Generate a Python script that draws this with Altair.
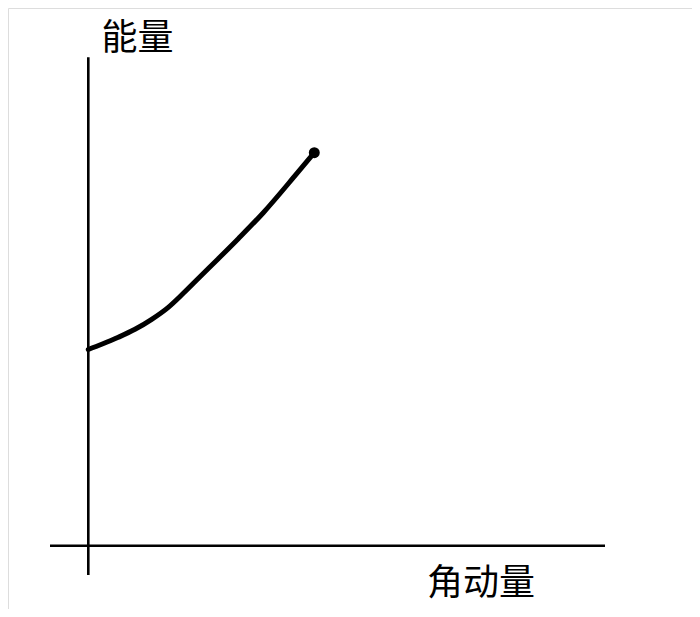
import altair as alt
import pandas as pd

# Curve: energy vs angular momentum (units: 100 px per unit, origin at the axis crossing)
L_vals = [0.0, 0.134, 0.3, 0.467, 0.634, 0.8, 0.95, 1.117, 1.3, 1.5, 1.75, 2.084, 2.26]
E_vals = [1.962, 2.014, 2.084, 2.164, 2.264, 2.384, 2.524, 2.69, 2.87, 3.07, 3.33, 3.72, 3.93]

# Axis line extents
x_axis_from, x_axis_to = -0.383, 5.167
y_axis_from, y_axis_to = -0.293, 4.884

# Axis labels
label_text = ["能量", "角动量"]
label_x = [0.492, 3.927]
label_y = [5.067, -0.383]

X_DOMAIN = [-0.803, 6.037]
Y_DOMAIN = [-0.633, 5.377]

curve = pd.DataFrame({"L": L_vals, "E": E_vals})
end_pt = curve.tail(1)
axes = pd.DataFrame({
    "x": [x_axis_from, 0.0],
    "x2": [x_axis_to, 0.0],
    "y": [0.0, y_axis_from],
    "y2": [0.0, y_axis_to],
})
labels = pd.DataFrame({"t": label_text, "x": label_x, "y": label_y})

xs = alt.Scale(domain=X_DOMAIN, nice=False, zero=False)
ys = alt.Scale(domain=Y_DOMAIN, nice=False, zero=False)

axis_rules = alt.Chart(axes).mark_rule(color="black", strokeWidth=2.6).encode(
    x=alt.X("x:Q", scale=xs, axis=None),
    x2="x2:Q",
    y=alt.Y("y:Q", scale=ys, axis=None),
    y2="y2:Q",
)

line = alt.Chart(curve).mark_line(color="black", strokeWidth=5, interpolate="monotone", strokeCap="round").encode(
    x=alt.X("L:Q", scale=xs, axis=None),
    y=alt.Y("E:Q", scale=ys, axis=None),
)

dot = alt.Chart(end_pt).mark_point(filled=True, color="black", size=120, shape="circle", opacity=1).encode(
    x=alt.X("L:Q", scale=xs, axis=None),
    y=alt.Y("E:Q", scale=ys, axis=None),
)

text = alt.Chart(labels).mark_text(
    font="Noto Sans CJK SC", fontSize=36, color="black", align="center", baseline="middle"
).encode(
    x=alt.X("x:Q", scale=xs, axis=None),
    y=alt.Y("y:Q", scale=ys, axis=None),
    text="t:N",
)

chart = alt.layer(axis_rules, line, dot, text).properties(
    width=684, height=601, autosize=alt.AutoSizeParams(type="none"), padding=0
).configure_view(stroke=None).configure(background="white")

chart.save("out.html", embed_options={"renderer": "svg", "actions": False})
